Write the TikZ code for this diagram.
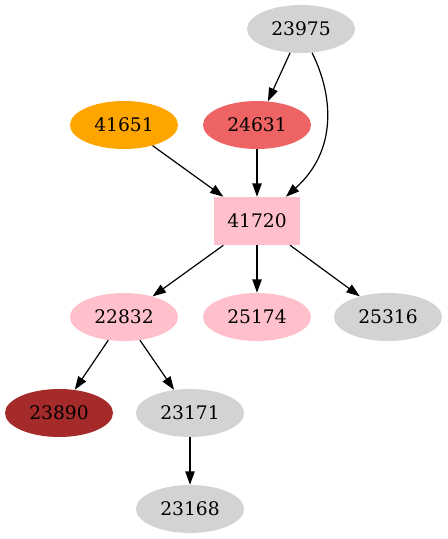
\documentclass[tikz,border=0pt]{standalone}
\usepackage{fontspec}
\setmainfont{DejaVu Serif}
\usetikzlibrary{arrows.meta,shapes.geometric}
\definecolor{gvorange}{HTML}{FFA500}
\definecolor{gvred}{HTML}{EE6363}
\definecolor{gvbrown}{HTML}{A52A2A}
\definecolor{gvpink}{HTML}{FFC0CB}
\definecolor{gvgray}{HTML}{D3D3D3}
\tikzset{
  oval/.style={ellipse, minimum width=81pt, minimum height=36pt, inner sep=0pt, font=\fontsize{14pt}{16pt}\selectfont},
  sq/.style={rectangle, minimum width=64pt, minimum height=36pt, inner sep=0pt, font=\fontsize{14pt}{16pt}\selectfont},
  edge/.style={draw=black, line width=0.9pt, -{Triangle[length=10pt,width=7pt]}},
}
\begin{document}
\begin{tikzpicture}[x=0.75pt,y=-0.75pt]
\useasboundingbox (0,0) rectangle (447,539);
\node[oval, fill=gvgray] (n23975) at (301,29) {23975};
\node[oval, fill=gvorange] (n41651) at (124,125) {41651};
\node[oval, fill=gvred] (n24631) at (257,125) {24631};
\node[sq, fill=gvpink] (n41720) at (257,221) {41720};
\node[oval, fill=gvpink] (n22832) at (124,317) {22832};
\node[oval, fill=gvpink] (n25174) at (257,317) {25174};
\node[oval, fill=gvgray] (n25316) at (388,317) {25316};
\node[oval, fill=gvbrown] (n23890) at (59,413) {23890};
\node[oval, fill=gvgray] (n23171) at (190,413) {23171};
\node[oval, fill=gvgray] (n23168) at (190,509) {23168};
\draw[edge] (n23975) -- (n24631);
\draw[edge] (n23975.-65) .. controls (333,95) and (338,150) .. (n41720.40);
\draw[edge] (n41651) -- (n41720);
\draw[edge] (n24631) -- (n41720);
\draw[edge] (n41720) -- (n22832);
\draw[edge] (n41720) -- (n25174);
\draw[edge] (n41720) -- (n25316);
\draw[edge] (n22832) -- (n23890);
\draw[edge] (n22832) -- (n23171);
\draw[edge] (n23171) -- (n23168);
\end{tikzpicture}
\end{document}
